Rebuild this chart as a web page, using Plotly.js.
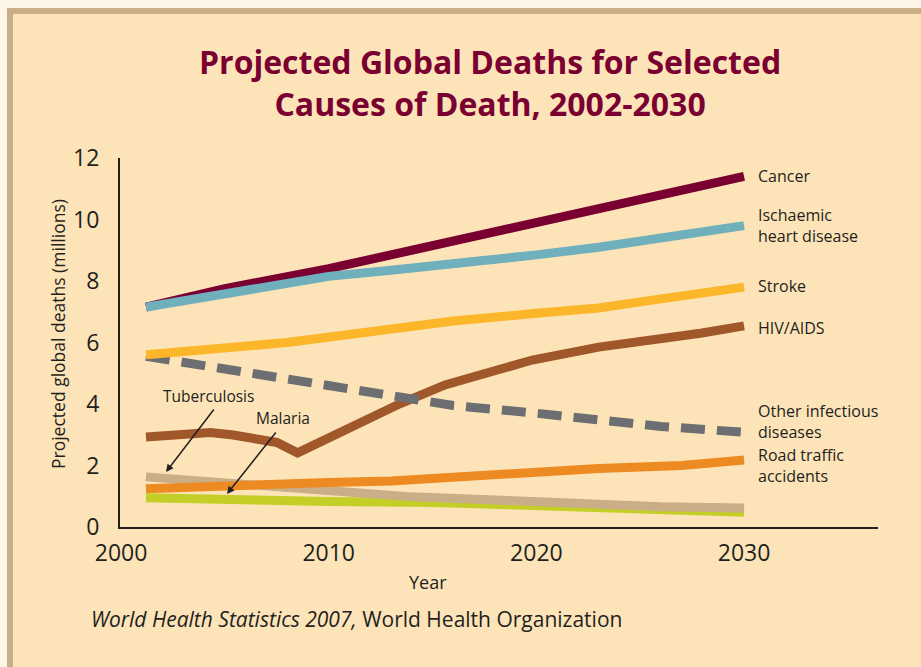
<!DOCTYPE html>
<html>
<head>
<meta charset="utf-8">
<script src="https://cdn.plot.ly/plotly-3.0.1.min.js"></script>
<style>
  html, body { margin: 0; padding: 0; background: #fdf5e7; }
  #frame { position: absolute; left: 7px; top: 8px; width: 914px; height: 659px;
           box-sizing: border-box; border-top: 6px solid #c9ae86; border-left: 6px solid #c9ae86;
           background: #fde4b8; }
  #chart { position: absolute; left: 0; top: 0; width: 921px; height: 667px; }
</style>
</head>
<body>
<div id="frame"></div>
<div id="chart"></div>
<script>
// Data (deaths in millions)
const cancerYears = [2001.2, 2005, 2010, 2015, 2020, 2025, 2030];
const cancerVals  = [7.15, 7.75, 8.4, 9.15, 9.9, 10.7, 11.4];

const ihdYears = [2001.2, 2005, 2010, 2013, 2016, 2020, 2023, 2026, 2030];
const ihdVals  = [7.15, 7.6, 8.15, 8.35, 8.55, 8.85, 9.1, 9.4, 9.8];

const strokeYears = [2001.2, 2005, 2008, 2012, 2016, 2020, 2023, 2026, 2030];
const strokeVals  = [5.6, 5.82, 6.0, 6.35, 6.7, 6.95, 7.12, 7.42, 7.8];

const hivYears = [2001.2, 2003.3, 2004.3, 2005.4, 2007.5, 2008.5, 2010.5, 2012, 2013.4, 2015.6, 2017.8, 2019.8, 2023, 2025, 2026.3, 2027.9, 2030];
const hivVals  = [2.93, 3.05, 3.07, 2.99, 2.75, 2.41, 3.06, 3.55, 4.0, 4.62, 5.04, 5.43, 5.85, 6.02, 6.18, 6.3, 6.54];

const otherYears = [2001.2, 2004, 2007, 2010, 2013, 2016, 2020, 2023, 2026, 2030];
const otherVals  = [5.55, 5.25, 4.95, 4.6, 4.25, 3.95, 3.7, 3.45, 3.27, 3.08];

const roadYears = [2001.2, 2005, 2010, 2013, 2016, 2020, 2023, 2027, 2030];
const roadVals  = [1.24, 1.35, 1.45, 1.5, 1.62, 1.8, 1.9, 2.0, 2.18];

const tbYears = [2001.2, 2005, 2008, 2011, 2014, 2018, 2022, 2026, 2030];
const tbVals  = [1.63, 1.45, 1.3, 1.1, 0.98, 0.88, 0.76, 0.66, 0.62];

const malariaYears = [2001.2, 2006, 2010, 2015, 2020, 2025, 2030];
const malariaVals  = [0.95, 0.87, 0.83, 0.8, 0.7, 0.58, 0.48];

const xTicks = [2000, 2010, 2020, 2030];
const yTicks = [0, 2, 4, 6, 8, 10, 12];

const titleText = 'Projected Global Deaths for Selected<br>Causes of Death, 2002-2030';

const txt = '#231f20';
const FONT = 'Open Sans';
const W = 9;

function tr(x, y, color, dash) {
  return { x: x, y: y, type: 'scatter', mode: 'lines', hoverinfo: 'skip',
           line: { color: color, width: W, dash: dash || 'solid', shape: 'linear' } };
}

const traces = [
  tr(malariaYears, malariaVals, '#c3cf26'),
  tr(tbYears, tbVals, '#c9ae88'),
  tr(roadYears, roadVals, '#ee8a22'),
  tr(hivYears, hivVals, '#a0582a'),
  tr(otherYears, otherVals, '#6d6e71', '24px,12px'),
  tr(strokeYears, strokeVals, '#fbb62a'),
  tr(cancerYears, cancerVals, '#7a0032'),
  tr(ihdYears, ihdVals, '#70b0bc')
];

// paper coordinate helpers (plot area: x 120..878, y 158..527 px)
const px = p => (p - 120) / 758;
const py = p => (527 - p) / 369;

function endLabel(text, years, vals, yshift) {
  return { text: text, x: years[years.length - 1], y: vals[vals.length - 1],
           xref: 'x', yref: 'y', xanchor: 'left', yanchor: 'middle', align: 'left',
           xshift: 12, yshift: yshift || 0, showarrow: false,
           font: { family: FONT, size: 16, color: txt } };
}

const annotations = [
  { text: titleText, xref: 'paper', yref: 'paper', x: px(490), y: py(82),
    xanchor: 'center', yanchor: 'middle', align: 'center', showarrow: false,
    font: { family: FONT, size: 32, color: '#7a0032', weight: 700 } },
  endLabel('Cancer', cancerYears, cancerVals, 0),
  endLabel('Ischaemic<br>heart disease', ihdYears, ihdVals, 0),
  endLabel('Stroke', strokeYears, strokeVals, 1),
  endLabel('HIV/AIDS', hivYears, hivVals, -2),
  endLabel('Other infectious<br>diseases', otherYears, otherVals, 11),
  endLabel('Road traffic<br>accidents', roadYears, roadVals, -6),
  // Tuberculosis label and arrow
  { text: 'Tuberculosis', xref: 'paper', yref: 'paper', x: px(208), y: py(396),
    xanchor: 'center', yanchor: 'middle', showarrow: false,
    font: { family: FONT, size: 15.5, color: txt } },
  { text: '', xref: 'paper', yref: 'paper', x: px(166), y: py(472),
    showarrow: true, arrowhead: 2, arrowsize: 1, arrowwidth: 1.5, arrowcolor: '#231f20',
    axref: 'pixel', ayref: 'pixel', ax: 49, ay: -64, standoff: 0 },
  // Malaria label and arrow
  { text: 'Malaria', xref: 'paper', yref: 'paper', x: px(283), y: py(418),
    xanchor: 'center', yanchor: 'middle', showarrow: false,
    font: { family: FONT, size: 15.5, color: txt } },
  { text: '', xref: 'paper', yref: 'paper', x: px(227), y: py(494),
    showarrow: true, arrowhead: 2, arrowsize: 1, arrowwidth: 1.5, arrowcolor: '#231f20',
    axref: 'pixel', ayref: 'pixel', ax: 50, ay: -63, standoff: 0 },
  // Year axis label
  { text: 'Year', xref: 'paper', yref: 'paper', x: px(428), y: py(582),
    xanchor: 'center', yanchor: 'middle', showarrow: false,
    font: { family: FONT, size: 18, color: txt } },
  // Y axis label
  { text: 'Projected global deaths (millions)', xref: 'paper', yref: 'paper', x: px(58), y: py(334),
    xanchor: 'center', yanchor: 'middle', textangle: -90, showarrow: false,
    font: { family: FONT, size: 17.5, color: txt } },
  // Source
  { text: '<i>World Health Statistics 2007,</i> World Health Organization', xref: 'paper', yref: 'paper',
    x: px(89), y: py(619), xanchor: 'left', yanchor: 'middle', showarrow: false,
    font: { family: FONT, size: 21, color: txt } }
];

const layout = {
  width: 921, height: 667,
  paper_bgcolor: 'rgba(0,0,0,0)', plot_bgcolor: 'rgba(0,0,0,0)',
  margin: { l: 120, r: 43, t: 158, b: 140 },
  showlegend: false,
  xaxis: { range: [1999.95, 2036.45], tickvals: xTicks, ticktext: xTicks.map(String),
           showgrid: false, zeroline: false, showline: true, linecolor: '#231f20', linewidth: 2,
           ticks: '', ticklabelstandoff: 4,
           tickfont: { family: FONT, size: 23, color: txt }, fixedrange: true },
  yaxis: { range: [0, 12], tickvals: yTicks, ticktext: yTicks.map(String),
           showgrid: false, zeroline: false, showline: true, linecolor: '#231f20', linewidth: 2,
           ticks: '', ticklabelstandoff: 14,
           tickfont: { family: FONT, size: 23, color: txt }, fixedrange: true },
  annotations: annotations
};

Plotly.newPlot('chart', traces, layout, { displayModeBar: false, staticPlot: true });
</script>
</body>
</html>
